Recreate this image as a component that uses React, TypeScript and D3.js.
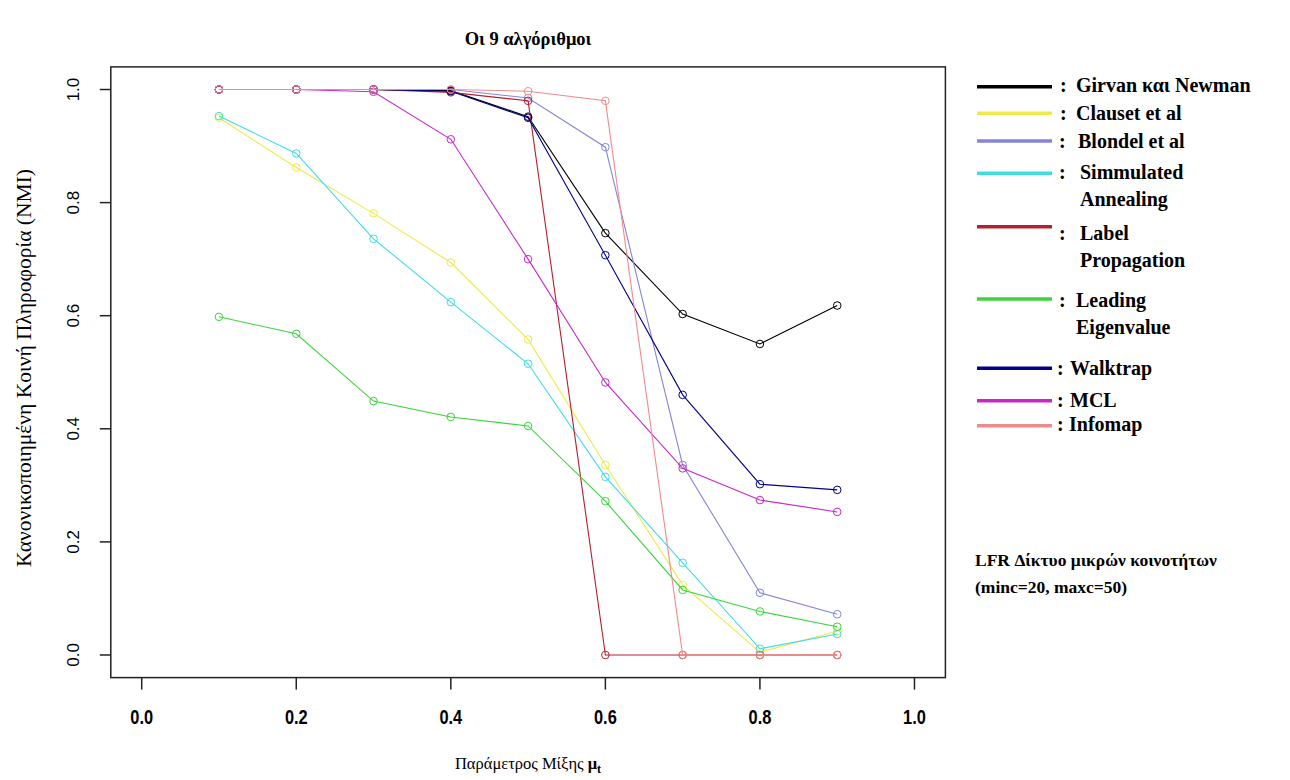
import React from "react";
import * as d3 from "d3";

const xValues = [0.1, 0.2, 0.3, 0.4, 0.5, 0.6, 0.7, 0.8, 0.9];
const girvanNewman = [1.0, 1.0, 1.0, 0.998, 0.952, 0.746, 0.603, 0.55, 0.618];
const clauset = [0.95, 0.862, 0.781, 0.694, 0.558, 0.336, 0.124, 0.005, 0.042];
const blondel = [1.0, 1.0, 1.0, 1.0, 0.985, 0.898, 0.336, 0.11, 0.072];
const simulatedAnnealing = [0.953, 0.887, 0.736, 0.624, 0.515, 0.315, 0.163, 0.011, 0.037];
const labelPropagation = [1.0, 1.0, 1.0, 0.995, 0.98, 0.0, 0.0, 0.0, 0.0];
const leadingEigenvalue = [0.598, 0.568, 0.449, 0.421, 0.405, 0.272, 0.115, 0.077, 0.05];
const walktrap = [1.0, 1.0, 1.0, 0.997, 0.95, 0.707, 0.46, 0.302, 0.292];
const mcl = [1.0, 1.0, 0.996, 0.912, 0.7, 0.482, 0.33, 0.274, 0.253];
const infomap = [1.0, 1.0, 1.0, 1.0, 0.997, 0.98, 0.0, 0.0, 0.0];

const xTicks = [0, 0.2, 0.4, 0.6, 0.8, 1.0];
const yTicks = [0, 0.2, 0.4, 0.6, 0.8, 1.0];

const seriesNames = [
  "Girvan και Newman",
  "Clauset et al",
  "Blondel et al",
  "Simmulated|Annealing",
  "Label|Propagation",
  "Leading|Eigenvalue",
  "Walktrap",
  "MCL",
  "Infomap",
];
const seriesValues = [
  girvanNewman,
  clauset,
  blondel,
  simulatedAnnealing,
  labelPropagation,
  leadingEigenvalue,
  walktrap,
  mcl,
  infomap,
];
const seriesColors = [
  "#000000",
  "#EEEA4A",
  "#8585D6",
  "#40DCE6",
  "#B3202E",
  "#3CD43C",
  "#00008C",
  "#C828C8",
  "#EE8C8C",
];

// legend layout (positions only)
const legendLineY = [86.7, 113.3, 141, 173.3, 226.7, 299, 368.3, 400.7, 425.7];
const legendBaseY = [92, 119.5, 148, 178.5, 240, 306.7, 375, 406.7, 431];
const legendColonX = [1060, 1060, 1059, 1059, 1059, 1059, 1057, 1057, 1057];
const legendTextX = [1076, 1076, 1078, 1080, 1080, 1076, 1070, 1070, 1069];
const legendLineGap = [0, 0, 0, 27.4, 26.7, 27.3, 0, 0, 0];

export default function App() {
  const W = 1290;
  const H = 780;
  const x = d3.scaleLinear().domain([-0.04, 1.04]).range([110.8, 945.4]);
  const y = d3.scaleLinear().domain([-0.04, 1.04]).range([677.6, 66.9]);
  const line = d3
    .line<number>()
    .x((_, i) => x(xValues[i]))
    .y((d) => y(d));

  const serif = "'Liberation Serif', 'Times New Roman', serif";
  const sans = "'Liberation Sans', Arial, sans-serif";

  return (
    <svg
      width={W}
      height={H}
      style={{ position: "absolute", left: 0, top: 0, background: "#fff" }}
    >
      <rect x={0} y={0} width={W} height={H} fill="#fff" />
      {/* title */}
      <text
        x={528}
        y={45}
        textAnchor="middle"
        fontFamily={serif}
        fontWeight="bold"
        fontSize={18.5}
      >
        Οι 9 αλγόριθμοι
      </text>

      {/* series */}
      {seriesValues.map((vals, s) => (
        <g key={s}>
          <path
            d={line(vals) || ""}
            fill="none"
            stroke={seriesColors[s]}
            strokeWidth={1.1}
          />
          {vals.map((v, i) => (
            <circle
              key={i}
              cx={x(xValues[i])}
              cy={y(v)}
              r={3.8}
              fill="none"
              stroke={seriesColors[s]}
              strokeWidth={1}
            />
          ))}
        </g>
      ))}

      {/* box */}
      <rect
        x={x(-0.04)}
        y={y(1.04)}
        width={x(1.04) - x(-0.04)}
        height={y(-0.04) - y(1.04)}
        fill="none"
        stroke="#222"
        strokeWidth={1.5}
      />

      {/* x axis */}
      {xTicks.map((t) => (
        <g key={t}>
          <line
            x1={x(t)}
            x2={x(t)}
            y1={y(-0.04)}
            y2={y(-0.04) + 12}
            stroke="#222"
            strokeWidth={1.5}
          />
          <text
            transform={`translate(${x(t)},724) scale(0.78,1)`}
            textAnchor="middle"
            fontFamily={sans}
            fontWeight="bold"
            fontSize={21}
          >
            {t.toFixed(1)}
          </text>
        </g>
      ))}
      <text
        x={528}
        y={769}
        textAnchor="middle"
        fontFamily={serif}
        fontSize={16.5}
      >
        Παράμετρος Μίξης{" "}
        <tspan fontWeight="bold">μ</tspan>
        <tspan fontWeight="bold" fontSize={12} dy={4}>
          t
        </tspan>
      </text>

      {/* y axis */}
      {yTicks.map((t) => (
        <g key={t}>
          <line
            x1={x(-0.04)}
            x2={x(-0.04) - 11}
            y1={y(t)}
            y2={y(t)}
            stroke="#222"
            strokeWidth={1.5}
          />
          <text
            transform={`translate(79,${y(t)}) rotate(-90)`}
            textAnchor="middle"
            fontFamily={sans}
            fontSize={17}
          >
            {t.toFixed(1)}
          </text>
        </g>
      ))}
      <text
        transform={`translate(31,368) rotate(-90)`}
        textAnchor="middle"
        fontFamily={serif}
        fontSize={21.5}
      >
        Κανονικοποιημένη Κοινή Πληροφορία (NMI)
      </text>

      {/* legend */}
      {seriesNames.map((name, s) => {
        const parts = name.split("|");
        return (
          <g key={s}>
            <line
              x1={977}
              x2={1052}
              y1={legendLineY[s]}
              y2={legendLineY[s]}
              stroke={seriesColors[s]}
              strokeWidth={3.5}
            />
            <text
              x={legendColonX[s]}
              y={legendBaseY[s]}
              fontFamily={serif}
              fontWeight="bold"
              fontSize={20}
            >
              :
            </text>
            {parts.map((p, k) => (
              <text
                key={k}
                x={legendTextX[s]}
                y={legendBaseY[s] + k * legendLineGap[s]}
                fontFamily={serif}
                fontWeight="bold"
                fontSize={20}
              >
                {p}
              </text>
            ))}
          </g>
        );
      })}

      {/* annotation */}
      <text x={975} y={566} fontFamily={serif} fontWeight="bold" fontSize={17.5}>
        LFR Δίκτυο μικρών κοινοτήτων
      </text>
      <text x={975} y={593} fontFamily={serif} fontWeight="bold" fontSize={17.5}>
        (minc=20, maxc=50)
      </text>
    </svg>
  );
}
